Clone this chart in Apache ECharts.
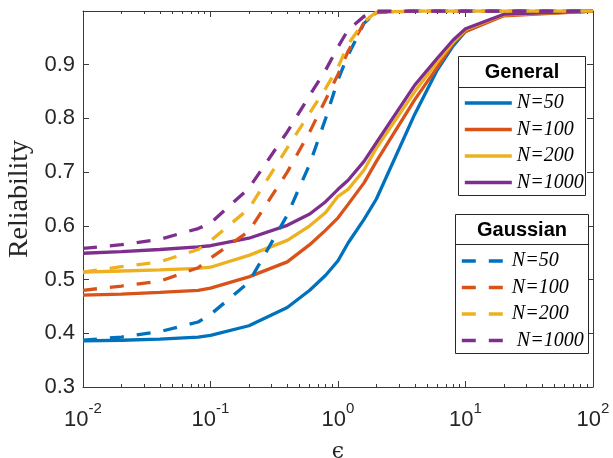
<!DOCTYPE html>
<html>
<head>
<meta charset="utf-8">
<script src="https://cdn.jsdelivr.net/npm/echarts@6/dist/echarts.min.js"></script>
<style>
html,body{margin:0;padding:0;background:#fff;}
#c{width:613px;height:458px;}
</style>
</head>
<body>
<div id="c"></div>
<script>
// epsilon grid
const eps = [0.01, 0.02, 0.04, 0.08, 0.1, 0.2, 0.4, 0.6, 0.8, 1, 1.2, 1.6, 2, 4, 6, 8, 10, 20, 100];
// General
const general50   = [0.386,0.387,0.389,0.393,0.396,0.414,0.448,0.480,0.508,0.535,0.568,0.612,0.650,0.808,0.890,0.935,0.962,0.993,1.0];
const general100  = [0.471,0.473,0.476,0.480,0.484,0.505,0.533,0.565,0.592,0.615,0.640,0.680,0.720,0.835,0.895,0.940,0.962,0.991,1.0];
const general200  = [0.514,0.516,0.518,0.521,0.523,0.545,0.573,0.600,0.625,0.655,0.668,0.704,0.745,0.850,0.905,0.942,0.965,0.993,1.0];
const general1000 = [0.549,0.552,0.556,0.561,0.563,0.577,0.601,0.622,0.645,0.668,0.685,0.720,0.755,0.862,0.912,0.946,0.967,0.994,1.0];
// Gaussian
const gauss50   = [0.387,0.393,0.403,0.421,0.435,0.495,0.620,0.715,0.800,0.872,0.918,0.977,0.998,1.0,1.0,1.0,1.0,1.0,1.0];
const gauss100  = [0.480,0.488,0.497,0.522,0.540,0.590,0.700,0.775,0.835,0.882,0.925,0.978,0.997,1.0,1.0,1.0,1.0,1.0,1.0];
const gauss200  = [0.514,0.524,0.533,0.556,0.572,0.632,0.745,0.810,0.856,0.895,0.938,0.980,0.998,1.0,1.0,1.0,1.0,1.0,1.0];
const gauss1000 = [0.558,0.565,0.575,0.595,0.605,0.670,0.775,0.843,0.890,0.933,0.965,0.990,1.0,1.0,1.0,1.0,1.0,1.0,1.0];

const labels = ['N=50', 'N=100', 'N=200', 'N=1000'];
const gaussLabels = ['N=50 ', 'N=100 ', 'N=200 ', ' N=1000 '];
const colors = ['#0072BD', '#D95319', '#EDB120', '#7E2F8E'];
const xMajor = [0.01, 0.1, 1, 10, 100];
const xMinor = [];
for (const d of [0.01, 0.1, 1, 10]) for (let k = 2; k <= 9; k++) xMinor.push(+(d * k).toPrecision(3));

const axisColor = '#262626';
const boxColor = '#3a3a3a';
const pair = (ys) => eps.map((x, i) => [x, ys[i]]);

const generalSets = [general50, general100, general200, general1000];
const gaussSets = [gauss50, gauss100, gauss200, gauss1000];

const series = [];
generalSets.forEach((ys, i) => series.push({
  name: labels[i], type: 'line', data: pair(ys), symbol: 'none', smooth: false,
  lineStyle: {color: colors[i], width: 3.3, type: 'solid'}, itemStyle: {color: colors[i]}, z: 2
}));
gaussSets.forEach((ys, i) => series.push({
  name: gaussLabels[i], type: 'line', data: pair(ys), symbol: 'none', smooth: false,
  lineStyle: {color: colors[i], width: 3.3, type: [14, 13], cap: 'butt'}, itemStyle: {color: colors[i]}, z: 3
}));

const logAxisBase = {
  type: 'log', logBase: 10, min: 0.01, max: 100,
  splitLine: {show: false}, minorTick: {show: false}
};

const legendBase = {
  orient: 'vertical', padding: 0, itemHeight: 14, itemGap: 6.5, z: 20,
  itemStyle: {opacity: 0},
  lineStyle: {width: 3.6},
  textStyle: {fontFamily: 'Liberation Serif', fontStyle: 'italic', fontSize: 20, color: '#000', lineHeight: 20},
  selectedMode: false
};

const chart = echarts.init(document.getElementById('c'), null, {renderer: 'canvas'});
chart.setOption({
  animation: false,
  backgroundColor: '#ffffff',
  grid: {left: 83, right: 20, top: 11, bottom: 71, containLabel: false, outerBoundsMode: 'none'},
  xAxis: [
    Object.assign({}, logAxisBase, {
      position: 'bottom',
      axisLine: {show: true, lineStyle: {color: boxColor, width: 1}},
      axisTick: {show: true, inside: true, length: 6, lineStyle: {color: boxColor}, customValues: xMajor},
      axisLabel: {
        show: true, margin: 14, customValues: xMajor,
        formatter: function (v) { const e = Math.round(Math.log10(v)); return '{b|10}{s|' + e + '}'; },
        rich: {
          b: {fontFamily: 'Liberation Sans', fontSize: 22, color: axisColor, verticalAlign: 'bottom', lineHeight: 30},
          s: {fontFamily: 'Liberation Sans', fontSize: 15, color: axisColor, verticalAlign: 'top', lineHeight: 30}
        }
      },
      name: '\u03F5', nameLocation: 'middle', nameGap: 54,
      nameTextStyle: {fontFamily: 'DejaVu Serif', fontSize: 22, color: axisColor}
    }),
    Object.assign({}, logAxisBase, {
      position: 'bottom',
      axisLine: {show: false},
      axisTick: {show: true, inside: true, length: 3, lineStyle: {color: boxColor}, customValues: xMinor},
      axisLabel: {show: false}
    }),
    Object.assign({}, logAxisBase, {
      position: 'top',
      axisLine: {show: true, lineStyle: {color: boxColor, width: 1}},
      axisTick: {show: true, inside: true, length: 6, lineStyle: {color: boxColor}, customValues: xMajor},
      axisLabel: {show: false}
    }),
    Object.assign({}, logAxisBase, {
      position: 'top',
      axisLine: {show: false},
      axisTick: {show: true, inside: true, length: 3, lineStyle: {color: boxColor}, customValues: xMinor},
      axisLabel: {show: false}
    })
  ],
  yAxis: [
    {
      type: 'value', min: 0.3, max: 1.0, interval: 0.1, position: 'left',
      splitLine: {show: false},
      axisLine: {show: true, lineStyle: {color: boxColor, width: 1}},
      axisTick: {show: true, inside: true, length: 6, lineStyle: {color: boxColor}},
      axisLabel: {
        margin: 8, fontFamily: 'Liberation Sans', fontSize: 22, color: axisColor,
        formatter: function (v) { return v >= 0.999 ? '' : v.toFixed(1); }
      },
      name: 'Reliability', nameLocation: 'middle', nameGap: 45,
      nameTextStyle: {fontFamily: 'Liberation Serif', fontSize: 28, color: axisColor}
    },
    {
      type: 'value', min: 0.3, max: 1.0, interval: 0.1, position: 'right',
      splitLine: {show: false},
      axisLine: {show: true, lineStyle: {color: boxColor, width: 1}},
      axisTick: {show: true, inside: true, length: 6, lineStyle: {color: boxColor}},
      axisLabel: {show: false}
    }
  ],
  legend: [
    Object.assign({}, legendBase, {data: labels, left: 463, top: 93, itemWidth: 47}),
    Object.assign({}, legendBase, {data: gaussLabels, left: 460, top: 251, itemWidth: 45})
  ],
  graphic: [
    {type: 'rect', z: 10, shape: {x: 458.5, y: 56.5, width: 127, height: 139}, style: {fill: '#fff', stroke: axisColor, lineWidth: 1}},
    {type: 'line', z: 11, shape: {x1: 458.5, y1: 87.5, x2: 585.5, y2: 87.5}, style: {stroke: axisColor, lineWidth: 1}},
    {type: 'text', z: 11, x: 522, y: 72, style: {text: 'General', font: 'bold 20px "Liberation Sans"', fill: '#000', textAlign: 'center', textVerticalAlign: 'middle'}},
    {type: 'rect', z: 10, shape: {x: 455.5, y: 214.5, width: 133, height: 139}, style: {fill: '#fff', stroke: axisColor, lineWidth: 1}},
    {type: 'line', z: 11, shape: {x1: 455.5, y1: 244.5, x2: 588.5, y2: 244.5}, style: {stroke: axisColor, lineWidth: 1}},
    {type: 'text', z: 11, x: 522, y: 230, style: {text: 'Gaussian', font: 'bold 20px "Liberation Sans"', fill: '#000', textAlign: 'center', textVerticalAlign: 'middle'}}
  ],
  series: series
});
</script>
</body>
</html>
